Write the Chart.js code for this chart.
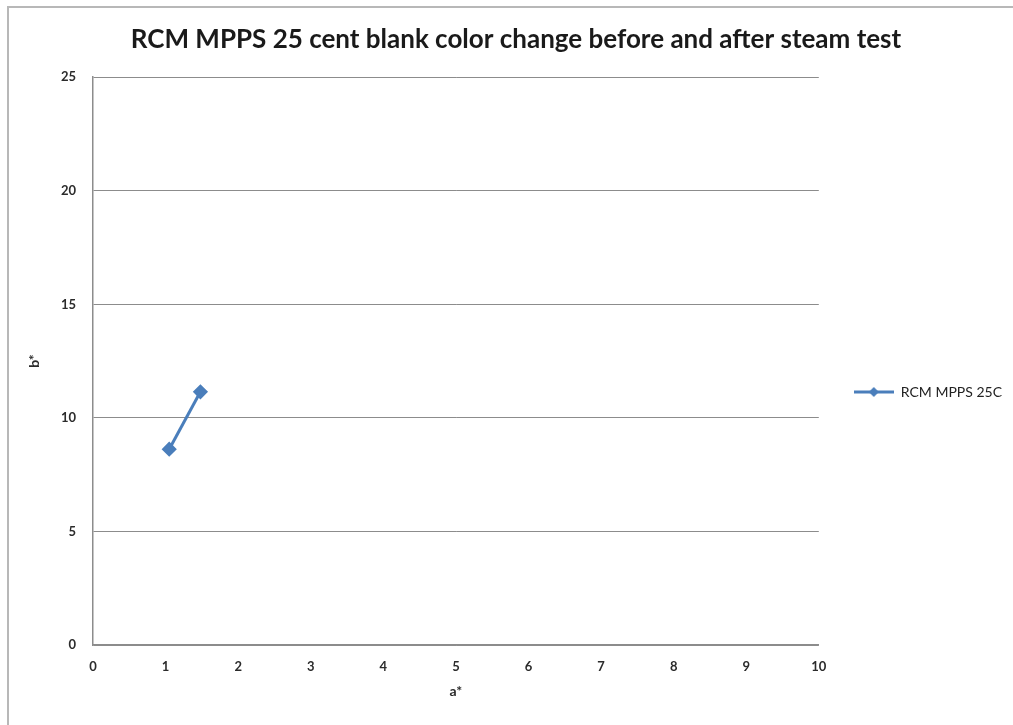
<!DOCTYPE html>
<html>
<head>
<meta charset="utf-8">
<script src="https://cdn.jsdelivr.net/npm/chart.js@4.4.0/dist/chart.umd.min.js"></script>
<style>
  html, body { margin: 0; padding: 0; background: #fff; overflow: hidden; }
  canvas { display: block; }
</style>
</head>
<body>
<canvas id="colorChart" width="1013" height="725"></canvas>
<script>
// readings (a* vs b*)
const seriesName = 'RCM MPPS 25C';
const aStar = [1.05, 1.48];
const bStar = [8.62, 11.15];
const xTicks = [0, 1, 2, 3, 4, 5, 6, 7, 8, 9, 10];
const yTicks = [0, 5, 10, 15, 20, 25];

const blue = '#4a7ebb';

// legend marker: short line with a diamond in the middle
const marker = document.createElement('canvas');
marker.width = 40;
marker.height = 12;
const mctx = marker.getContext('2d');
mctx.strokeStyle = blue;
mctx.lineWidth = 3;
mctx.beginPath();
mctx.moveTo(0, 6);
mctx.lineTo(40, 6);
mctx.stroke();
mctx.fillStyle = blue;
mctx.beginPath();
mctx.moveTo(20, 1);
mctx.lineTo(25, 6);
mctx.lineTo(20, 11);
mctx.lineTo(15, 6);
mctx.closePath();
mctx.fill();

// the grey chart-frame edge seen at the top and left of the picture
const frameEdge = {
  id: 'frameEdge',
  beforeDraw(chart) {
    const c = chart.ctx;
    c.save();
    c.strokeStyle = '#b8b8b8';
    c.lineWidth = 2;
    c.beginPath();
    c.moveTo(8, chart.height);
    c.lineTo(8, 7);
    c.lineTo(chart.width, 7);
    c.stroke();
    c.restore();
  }
};

const points = aStar.map((a, i) => ({ x: a, y: bStar[i] }));
const tickFont = { family: 'Lato', size: 13, weight: 'bold' };
const axisTitleFont = { family: 'Lato', size: 14, weight: 'bold' };

const ctx = document.getElementById('colorChart').getContext('2d');

new Chart(ctx, {
  type: 'scatter',
  data: {
    datasets: [{
      label: seriesName,
      data: points,
      showLine: true,
      borderColor: blue,
      backgroundColor: blue,
      borderWidth: 3,
      pointStyle: 'rectRot',
      pointRadius: 5.5,
      pointHoverRadius: 5.5
    }]
  },
  options: {
    responsive: false,
    animation: false,
    layout: { padding: { left: 20, right: 1, top: 0, bottom: 0 } },
    scales: {
      x: {
        type: 'linear',
        min: xTicks[0],
        max: xTicks[xTicks.length - 1],
        afterBuildTicks: s => { s.ticks = xTicks.map(v => ({ value: v })); },
        afterFit: s => { s.height = 80; },
        ticks: { color: '#2b2b2b', font: tickFont, padding: 14 },
        grid: { display: false, drawTicks: false },
        border: { display: true, color: '#8c8c8c', width: 1.5 },
        title: { display: true, text: 'a*', color: '#2b2b2b', font: axisTitleFont, padding: { top: 0, bottom: 25 } }
      },
      y: {
        type: 'linear',
        min: yTicks[0],
        max: yTicks[yTicks.length - 1],
        afterBuildTicks: s => { s.ticks = yTicks.map(v => ({ value: v })); },
        afterFit: s => { s.width = 73; },
        ticks: { color: '#2b2b2b', font: tickFont, padding: 17 },
        grid: { color: '#8c8c8c', lineWidth: 1, drawTicks: false },
        border: { display: true, color: '#8c8c8c', width: 1.5 },
        title: { display: true, text: 'b*', color: '#2b2b2b', font: axisTitleFont, padding: { top: 6, bottom: 0 } }
      }
    },
    plugins: {
      title: {
        display: true,
        text: 'RCM MPPS 25 cent blank color change before and after steam test',
        color: '#1a1a1a',
        font: { family: 'Lato', size: 26, weight: 'bold' },
        padding: { top: 24, bottom: 22 }
      },
      legend: {
        position: 'right',
        title: { display: true, text: '', padding: 22.3, font: { family: 'Lato', size: 12 } },
        labels: {
          usePointStyle: true,
          pointStyle: marker,
          pointStyleWidth: 40,
          padding: 35,
          color: '#222',
          font: { family: 'Lato', size: 14 }
        }
      },
      tooltip: { enabled: false }
    }
  },
  plugins: [frameEdge]
});
</script>
</body>
</html>
